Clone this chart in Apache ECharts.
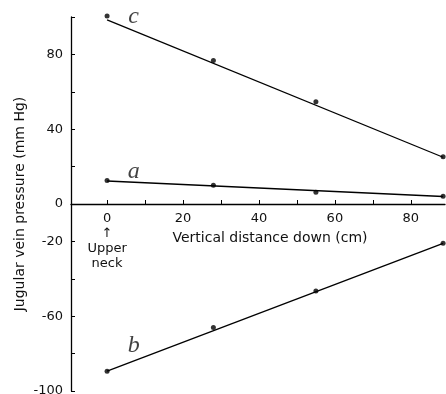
<!DOCTYPE html>
<html>
<head>
<meta charset="utf-8">
<script src="https://cdn.jsdelivr.net/npm/echarts@6/dist/echarts.min.js"></script>
<style>
  html, body { margin: 0; padding: 0; background: #fff; }
  #chart { width: 446px; height: 394px; }
</style>
</head>
<body>
<div id="chart"></div>
<script>
// measured distances (cm) and pressures (mm Hg) for the three curves
const distances = [0, 28, 55, 88.5];
const pressureC = [100.5, 76.8, 54.7, 25.3];
const pressureA = [12.6, 10, 6.3, 4.2];
const pressureB = [-89.4, -66, -46.5, -21];

// fitted straight lines: [start, end] pairs
const fitX = [0, 88.5];
const fitC = [98.5, 25];
const fitA = [12.3, 4];
const fitB = [-89.4, -21];

const xTicks = [0, 10, 20, 30, 40, 50, 60, 70, 80];
const xLabels = [0, 20, 40, 60, 80];
const yTicks = [-100, -80, -60, -40, -20, 0, 20, 40, 60, 80, 100];
const yLabels = [80, 40, 0, -20, -60, -100];

// curve tags: name, x, y
const curveTags = [['c', 7, 100], ['a', 7, 17.5], ['b', 7, -76]];

(function () {
  const chart = echarts.init(document.getElementById('chart'));
  const font = 'DejaVu Sans';
  const zip = (xs, ys) => xs.map((x, i) => [x, ys[i]]);
  const gridTop = 17;
  const gridBottom = 3;
  const plotH = 394 - gridTop - gridBottom;
  // move the x axis up from the grid bottom to y = 0 (middle of -100..100)
  const xOffset = -plotH / 2;

  const pointSeries = (data) => ({
    type: 'scatter',
    data: zip(distances, data),
    symbolSize: 5,
    clip: false,
    itemStyle: { color: '#000' },
    silent: true
  });
  const fitSeries = (data) => ({
    type: 'line',
    data: zip(fitX, data),
    showSymbol: false,
    lineStyle: { color: '#000', width: 1.3 },
    silent: true
  });

  chart.setOption({
    animation: false,
    grid: { left: 71, right: 1, top: gridTop, bottom: gridBottom, outerBoundsMode: 'none', containLabel: false },
    xAxis: {
      type: 'value',
      min: -9.5,
      max: 89,
      offset: xOffset,
      axisLine: { onZero: false, lineStyle: { color: '#000', width: 1.3 } },
      axisTick: { inside: true, length: 4, customValues: xTicks, lineStyle: { color: '#000' } },
      axisLabel: {
        customValues: xLabels,
        color: '#111',
        fontFamily: font,
        fontSize: 13,
        lineHeight: 15,
        margin: 7,
        formatter: (v) => (v === 0 ? '0\n↑\nUpper\nneck' : String(v))
      },
      splitLine: { show: false },
      name: 'Vertical distance down (cm)',
      nameLocation: 'middle',
      nameGap: 27,
      nameMoveOverlap: false,
      nameTextStyle: { color: '#111', fontFamily: font, fontSize: 14, padding: [0, 0, 0, 24] }
    },
    yAxis: {
      type: 'value',
      min: -100,
      max: 100,
      axisLine: { show: true, onZero: false, lineStyle: { color: '#000', width: 1.3 } },
      axisTick: { show: true, inside: true, length: 4, customValues: yTicks, lineStyle: { color: '#000' } },
      axisLabel: {
        customValues: yLabels,
        color: '#111',
        fontFamily: font,
        fontSize: 13,
        margin: 8
      },
      splitLine: { show: false },
      name: 'Jugular vein pressure (mm Hg)',
      nameLocation: 'middle',
      nameGap: 44,
      nameMoveOverlap: false,
      nameTextStyle: { color: '#111', fontFamily: font, fontSize: 14 }
    },
    series: [
      fitSeries(fitC),
      fitSeries(fitA),
      fitSeries(fitB),
      pointSeries(pressureC),
      pointSeries(pressureA),
      pointSeries(pressureB),
      {
        type: 'scatter',
        data: curveTags.map((t) => ({ name: t[0], value: [t[1], t[2]] })),
        symbolSize: 0,
        clip: false,
        silent: true,
        label: {
          show: true,
          formatter: '{b}',
          position: 'inside',
          color: '#111',
          fontFamily: 'Liberation Serif',
          fontStyle: 'italic',
          fontSize: 24
        }
      }
    ]
  });
})();
</script>
</body>
</html>
